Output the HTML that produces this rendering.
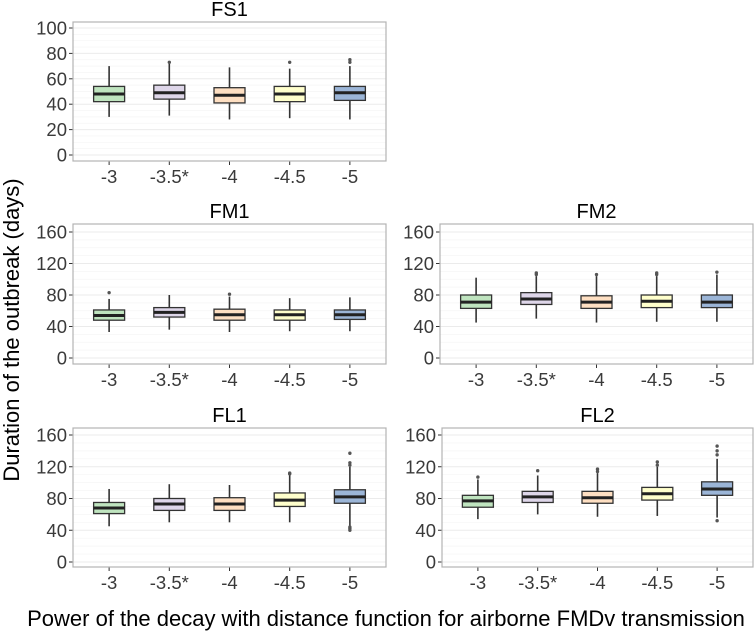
<!DOCTYPE html>
<html><head><meta charset="utf-8">
<style>
body{margin:0;background:#fff;}
svg{display:block;font-family:"Liberation Sans",sans-serif;}
</style></head>
<body>
<svg id="chart" width="755" height="631" viewBox="0 0 755 631">
<text x="19" y="330" transform="rotate(-90 19 330)" text-anchor="middle" font-size="22" fill="#000">Duration of the outbreak (days)</text>
<text x="386" y="626" text-anchor="middle" font-size="22" fill="#000">Power of the decay with distance function for airborne FMDv transmission</text>
</svg>
<script>
const categories = ["-3","-3.5*","-4","-4.5","-5"];
const colors = ["#BFE4BF","#DED6E9","#FEDFC2","#FFFFCC","#9BB5D7"];
// each: [lowWhisker, q1, median, q3, highWhisker]
const fs1Stats = [[30,42,48,54,70],[31,44,49,55,72],[28,41,47,53,69],[29,42,48,54,68],[28,43,49,54,70]];
const fs1Outliers = [[],[73],[],[73],[73,75]];
const fm1Stats = [[33,48,54,61,75],[36,52,58,64,80],[33,48,55,62,78],[34,48,55,61,76],[34,49,55,61,77]];
const fm1Outliers = [[83],[],[81],[],[]];
const fm2Stats = [[45,63,71,80,102],[50,68,75,83,104],[45,63,71,79,104],[46,64,72,80,104],[46,64,71,80,106]];
const fm2Outliers = [[],[106,108],[106],[106,108],[109]];
const fl1Stats = [[45,61,68,75,92],[50,65,73,80,98],[50,65,73,81,97],[50,70,78,87,110],[46,74,82,91,120]];
const fl1Outliers = [[],[],[],[111,112],[122,125,137,40,42,44]];
const fl2Stats = [[54,69,77,84,104],[60,75,82,89,109],[57,74,81,89,112],[58,78,86,94,120],[56,84,92,101,130]];
const fl2Outliers = [[107],[115],[114,117],[122,126],[135,140,146,52]];
const ticks100 = [0,20,40,60,80,100];
const ticks160 = [0,40,80,120,160];

const panels = [
 {name:"FS1",x0:73,x1:386,top:22,bot:161,y0:155,yTop:28,max:100,ticks:ticks100,minor:10,stats:fs1Stats,out:fs1Outliers},
 {name:"FM1",x0:73,x1:386,top:224,bot:364,y0:358,yTop:232,max:160,ticks:ticks160,minor:20,stats:fm1Stats,out:fm1Outliers},
 {name:"FM2",x0:440,x1:753,top:224,bot:364,y0:358,yTop:232,max:160,ticks:ticks160,minor:20,stats:fm2Stats,out:fm2Outliers},
 {name:"FL1",x0:73,x1:386,top:428,bot:567,y0:562,yTop:435,max:160,ticks:ticks160,minor:20,stats:fl1Stats,out:fl1Outliers},
 {name:"FL2",x0:442,x1:753,top:428,bot:567,y0:562,yTop:435,max:160,ticks:ticks160,minor:20,stats:fl2Stats,out:fl2Outliers}
];
const NS="http://www.w3.org/2000/svg";
const svg=document.getElementById('chart');
function mk(tag,attrs,parent){const e=document.createElementNS(NS,tag);for(const k in attrs)e.setAttribute(k,attrs[k]);(parent||svg).appendChild(e);return e;}
panels.forEach(p=>{
  const g=mk('g',{});
  
  
  const yS=v=>p.y0-(v/p.max)*(p.y0-p.yTop);
  const w=p.x1-p.x0;
  const xC=i=>p.x0+w*(0.6+i)/5.2;
  for(let v=0;v<=p.max+p.minor;v+=p.minor/2){
    const y=yS(v); if(y<p.top||y>p.bot)continue;
    const major=p.ticks.includes(v);
    mk('line',{x1:p.x0,x2:p.x1,y1:y,y2:y,stroke:major?'#ebebeb':'#f5f5f5','stroke-width':major?1:0.7},g);
  }
  const t=mk('text',{x:(p.x0+p.x1)/2,y:p.top-6,'text-anchor':'middle','font-size':20,fill:'#000'},g);
  t.textContent=p.name;
  
  
  p.ticks.forEach(v=>{
    const y=yS(v);
    mk('line',{x1:p.x0-4,x2:p.x0,y1:y,y2:y,stroke:'#333','stroke-width':1},g);
    const l=mk('text',{x:p.x0-6,y:y+6.5,'text-anchor':'end','font-size':18.5,fill:'#3a3a3a'},g);
    l.textContent=v;
    
    
  });
  categories.forEach((c,i)=>{
    const x=xC(i), s=p.stats[i], bw=31;
    mk('line',{x1:x,x2:x,y1:p.bot,y2:p.bot+4,stroke:'#333'},g);
    const l=mk('text',{x:x,y:p.bot+22,'text-anchor':'middle','font-size':18.5,fill:'#3a3a3a'},g);
    l.textContent=c;
    
    
    mk('line',{x1:x,x2:x,y1:yS(s[0]),y2:yS(s[4]),stroke:'#333','stroke-width':1.6},g);
    const b=mk('rect',{x:x-bw/2,y:yS(s[3]),width:bw,height:yS(s[1])-yS(s[3]),fill:colors[i],stroke:'#333','stroke-width':1.3},g);
    
    
    mk('line',{x1:x-bw/2,x2:x+bw/2,y1:yS(s[2]),y2:yS(s[2]),stroke:'#222','stroke-width':3},g);
    p.out[i].forEach(o=>{
      const d=mk('circle',{cx:x,cy:yS(o),r:1.7,fill:'#555'},g);
      
      
    });
  });
  mk('rect',{x:p.x0,y:p.top,width:w,height:p.bot-p.top,fill:'none',stroke:'#b3b3b3','stroke-width':1.2},g);
});
</script>
</body></html>
